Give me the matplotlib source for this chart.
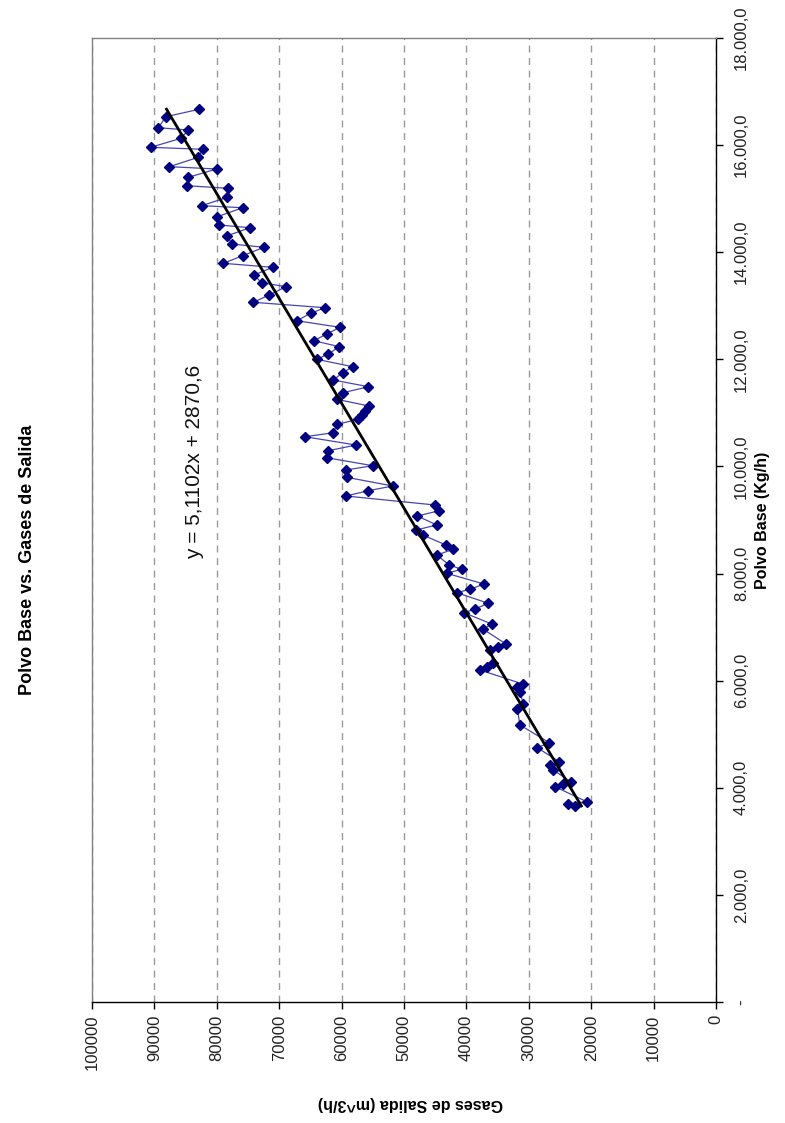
import matplotlib
matplotlib.use("Agg")
import matplotlib.pyplot as plt
from matplotlib.ticker import FuncFormatter
import numpy as np

plt.rcParams['font.family'] = ['Liberation Sans', 'DejaVu Sans']

# ---- data ----
polvo_base = [16670, 16530, 16325, 16282, 16127, 15959, 15922, 15772, 15597, 15554,
              15399, 15242, 15193, 15025, 14869, 14831, 14663, 14508, 14458, 14308,
              14153, 14092, 13935, 13793, 13718, 13575, 13431, 13356, 13201, 13065,
              12964, 12859, 12721, 12598, 12473, 12348, 12236, 12099, 12001, 11862,
              11750, 11614, 11489, 11377, 11254, 11129, 11041, 10960, 10880, 10787,
              10630, 10555, 10400, 10294, 10163, 10014, 9934, 9797, 9635, 9547,
              9448, 9280, 9174, 9075, 8907, 8813, 8720, 8533, 8453, 8346,
              8160, 8079, 8005, 7805, 7706, 7643, 7445, 7338, 7269, 7058,
              6959, 6685, 6623, 6573, 6324, 6250, 6199, 5938, 5887, 5794,
              5564, 5471, 5172, 4842, 4748, 4487, 4425, 4332, 4113, 4070,
              4020, 3740, 3697, 3660]
gases_salida = [82810, 88140, 89380, 84570, 85740, 90600, 82260, 82970, 87610, 80020,
                84570, 84830, 78160, 78320, 82420, 75850, 79920, 79600, 74680, 78320,
                77610, 72440, 75850, 78960, 71040, 74040, 72810, 68910, 71590, 74150,
                62660, 64950, 67200, 60260, 62390, 64430, 60370, 62130, 63990, 58220,
                59830, 61330, 55720, 59730, 60790, 55610, 56250, 56780, 57330, 60690,
                61330, 65870, 57690, 62130, 62390, 55020, 59300, 59180, 51810, 55720,
                59300, 45030, 44340, 47870, 44760, 48080, 47000, 43270, 42100, 44760,
                42740, 40750, 43160, 37180, 39420, 41560, 36490, 38620, 40390, 35950,
                37290, 33660, 34890, 36220, 35690, 36750, 37820, 30980, 31940, 31410,
                30880, 31840, 31410, 26720, 28640, 25110, 26600, 26070, 23290, 24570,
                25800, 20720, 23770, 22600]

trend_slope = 5.1102
trend_intercept = 2870.6

gases_ticks = list(range(0, 100001, 10000))
polvo_ticks = list(range(0, 18001, 2000))

title = "Polvo Base vs. Gases de Salida"
polvo_label = "Polvo Base (Kg/h)"
gases_label = "Gases de Salida (m^3/h)"
equation = "y = 5,1102x + 2870,6"

# ---- figure ----
W, H = 785, 1123
fig = plt.figure(figsize=(W / 100, H / 100), dpi=100)
fig.patch.set_facecolor('white')

L, R, T, B = 92, 716, 38, 1002
ax = fig.add_axes([L / W, 1 - B / H, (R - L) / W, (B - T) / H])

ax.set_xlim(100000, 0)
ax.set_ylim(0, 18000)

# grid (vertical dashed lines = Gases values)
ax.set_axisbelow(True)
ax.set_xticks(gases_ticks)
ax.xaxis.grid(True, linestyle=(0, (5, 4)), color='#9a9a9a', linewidth=1.0)
ax.yaxis.grid(False)

# spines
for s in ('top', 'left'):
    ax.spines[s].set_color('#808080')
    ax.spines[s].set_linewidth(1.0)
for s in ('right', 'bottom'):
    ax.spines[s].set_color('black')
    ax.spines[s].set_linewidth(1.0)

# Polvo axis on the right
ax.yaxis.tick_right()
ax.set_yticks(polvo_ticks)


def fmt_polvo(v, pos):
    if abs(v) < 1e-9:
        return "-"
    s = f"{v:,.1f}"
    return s.replace(",", "X").replace(".", ",").replace("X", ".")


ax.yaxis.set_major_formatter(FuncFormatter(fmt_polvo))
ax.xaxis.set_major_formatter(FuncFormatter(lambda v, p: f"{int(v)}"))

ax.tick_params(axis='x', direction='out', length=5, width=1, pad=4,
               labelsize=12, labelcolor='#222222')
ax.tick_params(axis='y', direction='out', length=5, width=1, pad=8,
               labelsize=12, labelcolor='#222222')
plt.setp(ax.get_xticklabels(), rotation=90, ha='center', va='top')
plt.setp(ax.get_yticklabels(), rotation=90, ha='left', va='center')

# data series (scatter with lines)
ax.plot(gases_salida, polvo_base, color='#4646b4', linewidth=0.9, zorder=3)
ax.plot(gases_salida, polvo_base, linestyle='none', marker='D', markersize=4.6,
        markerfacecolor='#000080', markeredgecolor='#000080', zorder=3)

# linear trendline
px = np.array([min(polvo_base), max(polvo_base)])
ax.plot(trend_slope * px + trend_intercept, px, color='black', linewidth=2.0, zorder=4)


def fx(x):
    return x / W


def fy(y):
    return 1 - y / H


# texts
fig.text(fx(28), fy(560), title, rotation=90, fontsize=13, fontweight='bold',
         ha='center', va='center')
fig.text(fx(763), fy(520), polvo_label, rotation=90, fontsize=11.5, fontweight='bold',
         ha='center', va='center')
fig.text(fx(410), fy(1104), gases_label, rotation=180, fontsize=11.5, fontweight='bold',
         ha='center', va='center')
fig.text(fx(195), fy(462), equation, rotation=90, fontsize=15,
         ha='center', va='center', color='#111111')

fig.savefig("out.png", dpi=100, facecolor='white')
